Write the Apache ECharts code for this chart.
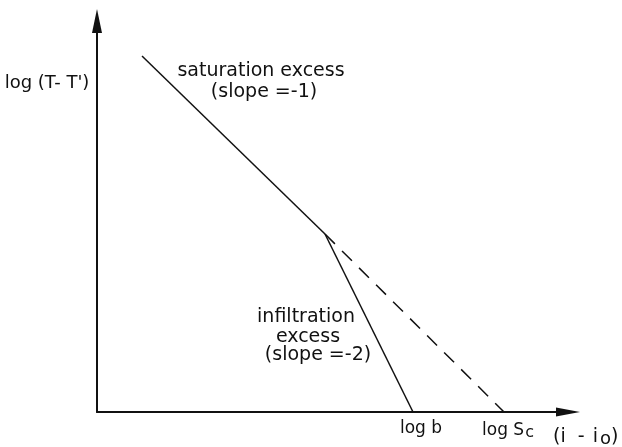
<!DOCTYPE html>
<html>
<head>
<meta charset="utf-8">
<script src="https://cdn.jsdelivr.net/npm/echarts@6/dist/echarts.min.js"></script>
<style>
html,body{margin:0;padding:0;background:#fff;}
#chart{width:622px;height:447px;}
</style>
</head>
<body>
<div id="chart"></div>
<script>
// Data (abstract log-space units)
const saturationLine = [[4.5, 35.6], [22.8, 17.8]];      // slope = -1
const infiltrationLine = [[22.8, 17.8], [31.6, 0]];      // slope = -2
const extrapolatedLine = [[22.8, 17.8], [40.7, 0]];      // dashed continuation, slope = -1
const tickValues = [31.6, 40.7];
const tickLabels = ['log b', 'log Sc'];
const xRange = [0, 47.1];
const yRange = [0, 39.1];

const FONT = '"DejaVu Sans", sans-serif';
const INK = '#111';

const chart = echarts.init(document.getElementById('chart'), null, {renderer: 'canvas'});

function txt(text, x, y, size) {
  return {
    type: 'text', x: x, y: y, silent: true,
    style: {text: text, fill: INK, font: (size || 19) + 'px ' + FONT, align: 'center', verticalAlign: 'middle'}
  };
}

chart.setOption({
  backgroundColor: '#fff',
  animation: false,
  grid: {left: 97, right: 54, top: 21, bottom: 35, containLabel: false, outerBoundsMode: 'none'},
  xAxis: {
    type: 'value', min: xRange[0], max: xRange[1],
    splitLine: {show: false},
    axisTick: {show: false},
    axisLine: {show: true, onZero: false, lineStyle: {color: INK, width: 2}, symbol: ['none', 'triangle'], symbolSize: [9, 24]},
    axisLabel: {
      show: true, customValues: tickValues, margin: 8, color: INK,
      fontFamily: FONT, fontSize: 17,
      formatter: function (v) {
        const i = tickValues.indexOf(v);
        const t = i >= 0 ? tickLabels[i] : '';
        if (t === 'log Sc') return '{a|log S}{s|c}';
        return '{b|' + t + '}';
      },
      rich: {
        a: {fontFamily: FONT, fontSize: 17, color: INK, padding: [0, 0, 0, 8]},
        s: {fontFamily: FONT, fontSize: 16, color: INK, padding: [5, 0, 0, 1]},
        b: {fontFamily: FONT, fontSize: 17, color: INK, padding: [0, 0, 0, 16]}
      }
    }
  },
  yAxis: {
    type: 'value', min: yRange[0], max: yRange[1],
    splitLine: {show: false},
    axisTick: {show: false},
    axisLabel: {show: false},
    axisLine: {show: true, onZero: false, lineStyle: {color: INK, width: 2}, symbol: ['none', 'triangle'], symbolSize: [10, 24]}
  },
  series: [
    {type: 'line', name: 'saturation excess', data: saturationLine, showSymbol: false, lineStyle: {color: INK, width: 1.5}},
    {type: 'line', name: 'infiltration excess', data: infiltrationLine, showSymbol: false, lineStyle: {color: INK, width: 1.5}},
    {type: 'line', name: 'extrapolated', data: extrapolatedLine, showSymbol: false, lineStyle: {color: INK, width: 1.5, type: [14, 10]}}
  ],
  graphic: [
    txt('log (T- T\')', 47, 83, 18),
    txt('saturation excess', 261, 71),
    txt('(slope =-1)', 264, 92),
    txt('infiltration', 306, 317),
    txt('excess', 308, 337),
    txt('(slope =-2)', 318, 355),
    {
      type: 'text', x: 553, y: 437, silent: true,
      style: {
        text: '(i  - {s|i}{o|o})', fill: INK, font: '19px ' + FONT, align: 'left', verticalAlign: 'middle',
        rich: {s: {fontFamily: FONT, fontSize: 19, fill: INK, padding: [0, 0, 0, 2]}, o: {fontFamily: FONT, fontSize: 18, fill: INK, padding: [4, 0, 0, 2]}}
      }
    }
  ]
});
</script>
</body>
</html>
